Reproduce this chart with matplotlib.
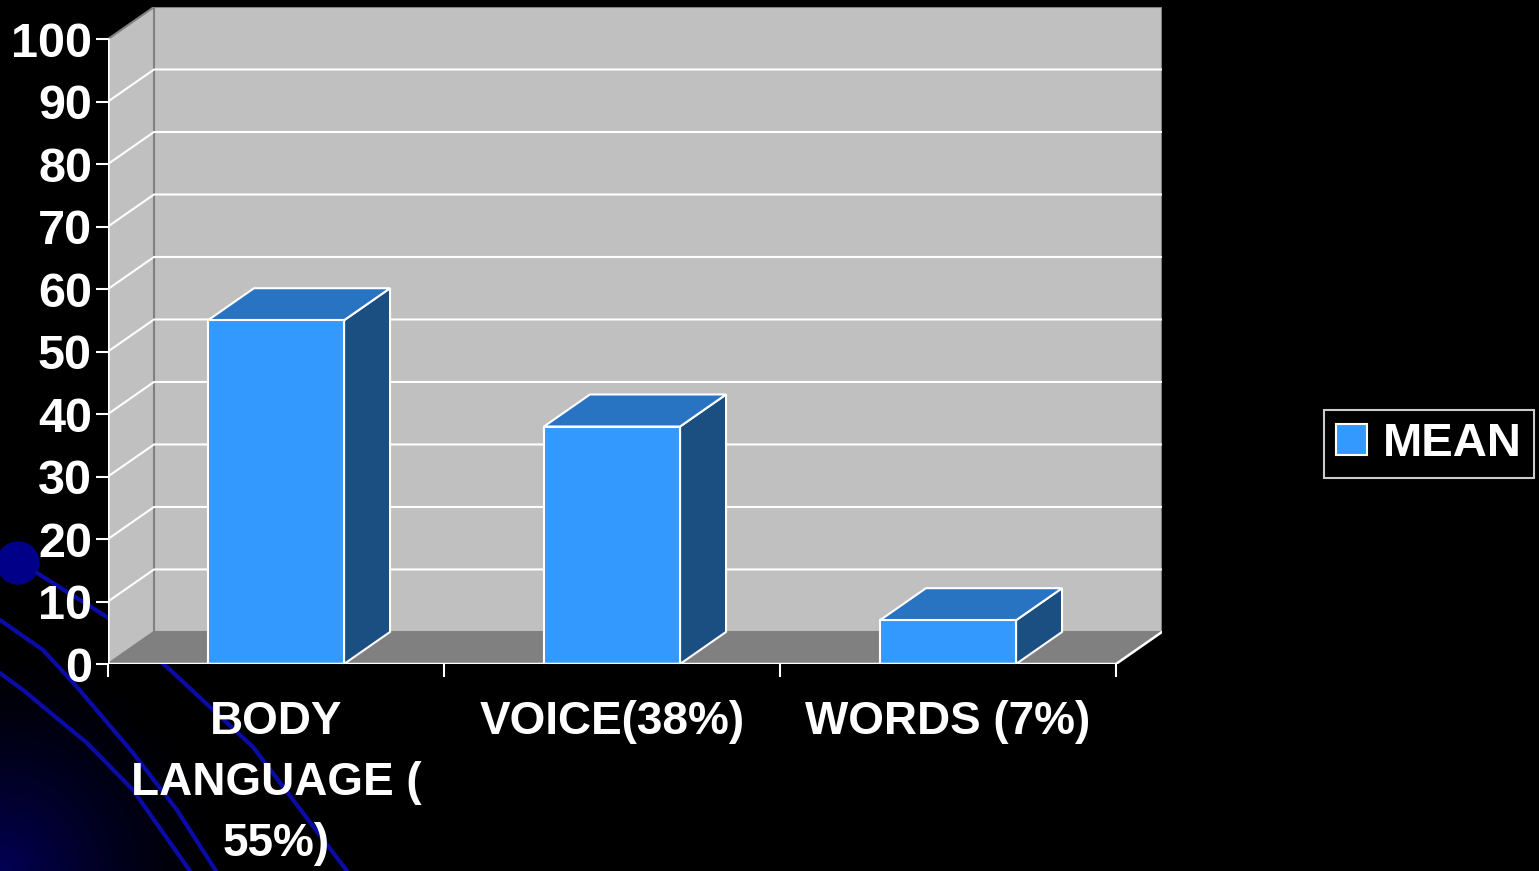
import matplotlib
matplotlib.use('Agg')

import matplotlib.pyplot as plt
from matplotlib.patches import Polygon, Patch, Circle
import numpy as np

# ------------------------------------------------------------
# data
# ------------------------------------------------------------
categories = ["BODY\nLANGUAGE (\n55%)", "VOICE(38%)", "WORDS (7%)"]
values = [55, 38, 7]
series_name = "MEAN"
y_ticks = list(range(0, 101, 10))

# colours
FRONT = '#3399ff'
TOP = '#2874c2'
SIDE = '#1b4f82'
WALL = '#c0c0c0'
FLOOR = '#808080'
EDGE = '#808080'

plt.rcParams['font.family'] = ['Liberation Sans', 'DejaVu Sans']
plt.rcParams['font.weight'] = 'bold'

fig = plt.figure(figsize=(15.39, 8.71), dpi=100, facecolor='black')

# ------------------------------------------------------------
# slide background (dark blue glow + curves, bottom-left)
# ------------------------------------------------------------
bg = fig.add_axes([0, 0, 1, 1], zorder=0)
bg.set_xlim(0, 1539)
bg.set_ylim(871, 0)
bg.axis('off')

yy, xx = np.mgrid[0:871:3, 0:1539:3]
r = np.hypot(xx, yy - 871)
glow = np.clip(1 - r / 230, 0, 1) ** 1.5
img = np.zeros(xx.shape + (3,))
img[..., 2] = glow * 0.33
img[..., 0] = glow * 0.01
bg.imshow(img, extent=(0, 1539, 871, 0), aspect='auto', interpolation='bilinear')

curves = [
    [(37, 573), (107, 617), (167, 667), (253, 747), (347, 871)],
    [(0, 620), (43, 650), (77, 687), (133, 753), (177, 810), (216, 871)],
    [(0, 673), (23, 690), (87, 743), (133, 790), (190, 871)],
]
for pts in curves:
    cx, cy = zip(*pts)
    bg.plot(cx, cy, color='#0b0ba8', lw=3, solid_capstyle='round')
bg.add_patch(Circle((18, 563), 21, color='#000088'))

# ------------------------------------------------------------
# 3D-look column chart
# ------------------------------------------------------------
dx = 46 / 336.0   # depth offset, category units
dy = 5.13         # depth offset, value units
w = 0.405         # bar width

ax = fig.add_axes([108 / 1539, 207 / 871, 1054 / 1539, 657 / 871], zorder=1)
ax.set_xlim(-0.5, 2.5 + dx)
ax.set_ylim(0, 100 + dy)
ax.set_facecolor('none')
for s in ax.spines.values():
    s.set_visible(False)

x0, x1 = -0.5, len(categories) - 0.5

# walls and floor
ax.add_patch(Polygon([(x0 + dx, dy), (x1 + dx, dy), (x1 + dx, 100 + dy), (x0 + dx, 100 + dy)],
                     facecolor=WALL, edgecolor=EDGE, lw=1.5, zorder=1))
ax.add_patch(Polygon([(x0, 0), (x0 + dx, dy), (x0 + dx, 100 + dy), (x0, 100)],
                     facecolor=WALL, edgecolor=EDGE, lw=1.5, zorder=1))
ax.add_patch(Polygon([(x0, 0), (x1, 0), (x1 + dx, dy), (x0 + dx, dy)],
                     facecolor=FLOOR, edgecolor=EDGE, lw=1.0, zorder=1))

# gridlines
for v in y_ticks[1:-1]:
    ax.plot([x0, x0 + dx, x1 + dx], [v, v + dy, v + dy], color='white', lw=1.5, zorder=2)

# axis lines
ax.plot([x0, x0], [0, 100], color='white', lw=1.8, zorder=3)
ax.plot([x0, x1, x1 + dx], [0, 0, dy], color='white', lw=1.8, zorder=6)

# bars
for i, v in enumerate(values):
    l, rgt = i - w / 2, i + w / 2
    ax.add_patch(Polygon([(rgt, 0), (rgt + dx, dy), (rgt + dx, v + dy), (rgt, v)],
                         facecolor=SIDE, edgecolor='white', lw=1.5, zorder=4))
    ax.add_patch(Polygon([(l, v), (rgt, v), (rgt + dx, v + dy), (l + dx, v + dy)],
                         facecolor=TOP, edgecolor='white', lw=1.5, zorder=4))
    ax.add_patch(Polygon([(l, 0), (rgt, 0), (rgt, v), (l, v)],
                         facecolor=FRONT, edgecolor='white', lw=1.5, zorder=5))

# ticks
ax.set_yticks(y_ticks)
ax.tick_params(axis='y', direction='out', length=8.5, width=1.5, color='white',
               labelcolor='white', labelsize=35, pad=3)
ax.set_xticks(range(len(categories)))
ax.set_xticklabels(categories, linespacing=1.5)
ax.tick_params(axis='x', which='major', length=0, labelcolor='white', labelsize=33, pad=26)
ax.set_xticks([x0 + k for k in range(len(categories) + 1)], minor=True)
ax.tick_params(axis='x', which='minor', direction='out', length=9, width=1.5, color='white')

# legend
leg = fig.legend(handles=[Patch(facecolor=FRONT, edgecolor='white', lw=1.5, label=series_name)],
                 loc='center', bbox_to_anchor=(0.9285, 0.4902), frameon=True,
                 facecolor='black', edgecolor='white', fancybox=False, fontsize=34,
                 labelcolor='white', handlelength=0.65, handleheight=0.65,
                 handletextpad=0.35, borderpad=0.25, borderaxespad=0)
leg.get_frame().set_linewidth(1.5)

fig.savefig('out.png', dpi=100, facecolor='black')
